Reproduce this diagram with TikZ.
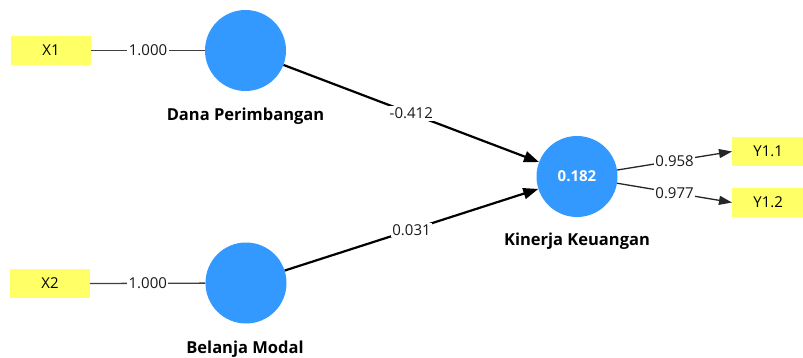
\documentclass[tikz,border=0pt]{standalone}
\usepackage{fontspec}
\setmainfont{Open Sans}
\usetikzlibrary{arrows.meta}
\definecolor{lvblue}{RGB}{51,153,255}
\definecolor{indyellow}{RGB}{255,255,102}
\tikzset{
  latent/.style={circle,fill=lvblue,minimum size=81pt,inner sep=0pt,text=white,font=\fontsize{15}{18}\selectfont\bfseries},
  indic/.style={rectangle,fill=indyellow,minimum width=80pt,minimum height=29pt,inner sep=0pt,font=\fontsize{15}{17}\selectfont},
  lvname/.style={font=\fontsize{16.5}{19}\selectfont\bfseries,inner sep=0pt},
  elabel/.style={fill=white,inner sep=1.5pt,font=\fontsize{15}{17}\selectfont,text=black!90},
  outer/.style={draw=black!75,line width=1.3pt},
  structural/.style={draw=black,line width=2.2pt,-{Triangle[length=15pt,width=11pt]}},
  loading/.style={draw=black!85,line width=1.3pt,-{Triangle[length=13pt,width=9pt]}}
}
\begin{document}
\begin{tikzpicture}[x=1pt,y=-1pt]
\useasboundingbox (0,0) rectangle (803,358);
\node[indic] (x1) at (51,50.5) {X1};
\node[indic] (x2) at (50,283.5) {X2};
\node[indic,minimum width=72pt,anchor=west] (y11) at (732,151.5) {Y1.1};
\node[indic,minimum width=72pt,anchor=west] (y12) at (732,202.5) {Y1.2};
\node[latent] (dp) at (245.5,50.5) {};
\node[latent] (bm) at (246,283) {};
\node[latent] (kk) at (577,176.5) {0.182};
\node[lvname] (dpl) at (245.5,116) {Dana Perimbangan};
\node[lvname] (bml) at (245,349) {Belanja Modal};
\node[lvname] (kkl) at (577,241.5) {Kinerja Keuangan};
\draw[outer] (x1.east) -- node[elabel] {1.000} (dp);
\draw[outer] (x2.east) -- node[elabel] {1.000} (bm);
\draw[structural] (dp) -- node[elabel] {-0.412} (kk);
\draw[structural] (bm) -- node[elabel] {0.031} (kk);
\draw[loading] (kk) -- node[elabel] {0.958} (y11.west);
\draw[loading] (kk) -- node[elabel] {0.977} (y12.west);
\end{tikzpicture}
\end{document}
